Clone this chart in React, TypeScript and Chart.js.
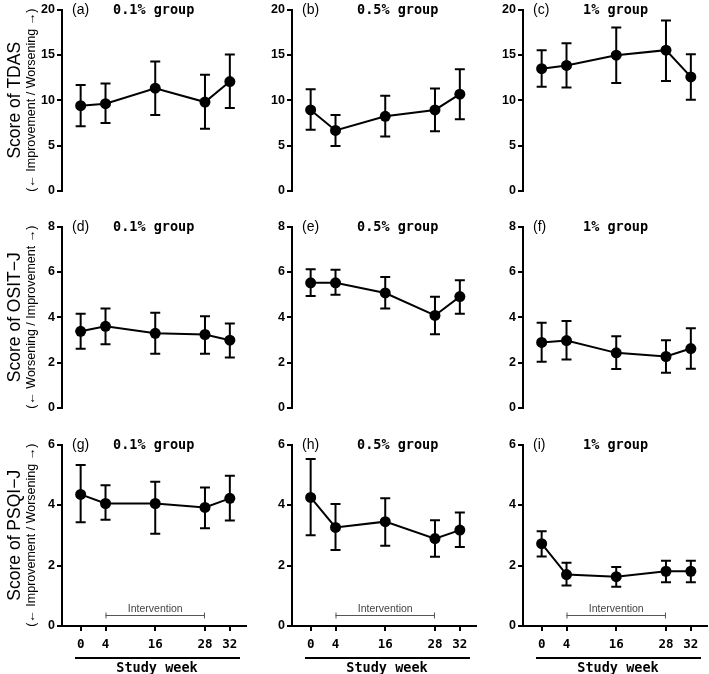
import React, { useEffect, useRef } from "react";
import { Chart, registerables } from "chart.js";
Chart.register(...registerables);

// ---------- data ----------
const weekLabels = ["0", "4", "16", "28", "32"];
const weekPositions = [0, 1, 3, 5, 6];
const interventionFrom = 1; // position of week 4
const interventionTo = 5; // position of week 28

const groupNames = ["0.1% group", "0.5% group", "1% group"];
const panelLetters = ["(a)", "(b)", "(c)", "(d)", "(e)", "(f)", "(g)", "(h)", "(i)"];
const yTitles = ["Score of TDAS", "Score of OSIT\u2212J", "Score of PSQI\u2212J"];
const ySubTitles = [
  "(\u2190 Improvement / Worsening \u2192)",
  "(\u2190 Worsening / Improvement \u2192)",
  "(\u2190 Improvement / Worsening \u2192)",
];
const yMax = [20, 8, 6];
const yStep = [5, 2, 2];

// TDAS
const tdas01Mean = [9.4, 9.62, 11.33, 9.8, 12.06];
const tdas01Upper = [11.69, 11.84, 14.28, 12.82, 15.05];
const tdas01Lower = [7.14, 7.5, 8.38, 6.85, 9.14];
const tdas05Mean = [8.93, 6.67, 8.23, 8.93, 10.67];
const tdas05Upper = [11.22, 8.38, 10.49, 11.29, 13.41];
const tdas05Lower = [6.74, 4.95, 6.01, 6.59, 7.9];
const tdas1Mean = [13.48, 13.84, 14.97, 15.52, 12.57];
const tdas1Upper = [15.52, 16.28, 18.03, 18.8, 15.08];
const tdas1Lower = [11.48, 11.4, 11.91, 12.13, 10.05];
// OSIT-J
const osit01Mean = [3.38, 3.6, 3.29, 3.24, 2.99];
const osit01Upper = [4.15, 4.39, 4.2, 4.04, 3.73];
const osit01Lower = [2.61, 2.81, 2.39, 2.39, 2.23];
const osit05Mean = [5.52, 5.52, 5.07, 4.08, 4.91];
const osit05Upper = [6.12, 6.09, 5.77, 4.9, 5.63];
const osit05Lower = [4.94, 4.99, 4.39, 3.25, 4.15];
const osit1Mean = [2.89, 2.97, 2.43, 2.27, 2.62];
const osit1Upper = [3.76, 3.83, 3.16, 2.99, 3.51];
const osit1Lower = [2.04, 2.14, 1.72, 1.55, 1.73];
// PSQI-J
const psqi01Mean = [4.35, 4.05, 4.05, 3.92, 4.22];
const psqi01Upper = [5.32, 4.65, 4.77, 4.58, 4.97];
const psqi01Lower = [3.43, 3.51, 3.05, 3.23, 3.49];
const psqi05Mean = [4.25, 3.26, 3.45, 2.89, 3.17];
const psqi05Upper = [5.52, 4.03, 4.22, 3.5, 3.75];
const psqi05Lower = [3.0, 2.51, 2.65, 2.29, 2.61];
const psqi1Mean = [2.72, 1.7, 1.63, 1.81, 1.81];
const psqi1Upper = [3.13, 2.09, 1.95, 2.16, 2.16];
const psqi1Lower = [2.3, 1.34, 1.3, 1.45, 1.45];

const panelSeries = [
  [tdas01Mean, tdas01Upper, tdas01Lower],
  [tdas05Mean, tdas05Upper, tdas05Lower],
  [tdas1Mean, tdas1Upper, tdas1Lower],
  [osit01Mean, osit01Upper, osit01Lower],
  [osit05Mean, osit05Upper, osit05Lower],
  [osit1Mean, osit1Upper, osit1Lower],
  [psqi01Mean, psqi01Upper, psqi01Lower],
  [psqi05Mean, psqi05Upper, psqi05Lower],
  [psqi1Mean, psqi1Upper, psqi1Lower],
];

// ---------- layout ----------
const AXIS_X = [62, 292, 523];
const PLOT_TOP = [8, 225, 443];
const PLOT_H = 183;
const PLOT_W = 184;
const Y_AXIS_W = 40;
const X_AXIS_H = 50;
const PAD_TOP = 8;
const PAD_RIGHT = 8;
const GROUP_DX = [51, 65, 60];
const GROUP_FONT = 'bold 13.5px "DejaVu Sans Mono", monospace';
const MONO_FONT = '"DejaVu Sans Mono", monospace';

function Panel({ row, col }: { row: number; col: number }) {
  const ref = useRef<HTMLCanvasElement>(null);
  const padLeft = col === 0 ? AXIS_X[0] - Y_AXIS_W : 0;
  const width = padLeft + Y_AXIS_W + PLOT_W + PAD_RIGHT;
  const height = PAD_TOP + PLOT_H + X_AXIS_H;
  const left = AXIS_X[col] - Y_AXIS_W - padLeft;
  const top = PLOT_TOP[row] - PAD_TOP;
  const idx = row * 3 + col;
  const isBottom = row === 2;

  useEffect(() => {
    const [mean, upper, lower] = panelSeries[idx];
    const plugin = {
      id: "panelDecor",
      beforeDatasetsDraw(chart: any) {
        const ctx = chart.ctx;
        const xs = chart.scales.x;
        const ys = chart.scales.y;
        ctx.save();
        ctx.strokeStyle = "#000";
        ctx.lineWidth = 2;
        weekPositions.forEach((p, i) => {
          const x = xs.getPixelForValue(p);
          const yh = ys.getPixelForValue(upper[i]);
          const yl = ys.getPixelForValue(lower[i]);
          ctx.beginPath();
          ctx.moveTo(x, yh);
          ctx.lineTo(x, yl);
          ctx.moveTo(x - 5, yh);
          ctx.lineTo(x + 5, yh);
          ctx.moveTo(x - 5, yl);
          ctx.lineTo(x + 5, yl);
          ctx.stroke();
        });
        ctx.restore();
      },
      afterDraw(chart: any) {
        const ctx = chart.ctx;
        const a = chart.chartArea;
        const xs = chart.scales.x;
        ctx.save();
        ctx.fillStyle = "#000";
        ctx.textBaseline = "middle";
        ctx.textAlign = "left";
        ctx.font = '14px "Liberation Sans", Arial, sans-serif';
        ctx.fillText(panelLetters[idx], a.left + 10, a.top + 1);
        ctx.font = GROUP_FONT;
        ctx.fillText(groupNames[col], a.left + GROUP_DX[col], a.top + 1);

        if (col === 0) {
          const yc = (a.top + a.bottom) / 2;
          ctx.save();
          ctx.translate(19.5, yc);
          ctx.rotate(-Math.PI / 2);
          ctx.textAlign = "center";
          ctx.textBaseline = "alphabetic";
          ctx.font = '17.5px "Liberation Sans", Arial, sans-serif';
          ctx.fillText(yTitles[row], 0, 0);
          ctx.restore();
          ctx.save();
          ctx.translate(35, yc);
          ctx.rotate(-Math.PI / 2);
          ctx.textAlign = "center";
          ctx.textBaseline = "alphabetic";
          ctx.font = '12.5px "Liberation Sans", Arial, sans-serif';
          ctx.fillText(ySubTitles[row], 0, 0);
          ctx.restore();
        }

        if (isBottom) {
          const x1 = xs.getPixelForValue(interventionFrom);
          const x2 = xs.getPixelForValue(interventionTo);
          const yb = a.bottom - 10.5;
          ctx.strokeStyle = "#555";
          ctx.lineWidth = 1;
          ctx.beginPath();
          ctx.moveTo(x1, yb);
          ctx.lineTo(x2, yb);
          ctx.moveTo(x1 + 0.5, yb - 3);
          ctx.lineTo(x1 + 0.5, yb + 3);
          ctx.moveTo(x2 - 0.5, yb - 3);
          ctx.lineTo(x2 - 0.5, yb + 3);
          ctx.stroke();
          ctx.fillStyle = "#444";
          ctx.textAlign = "center";
          ctx.font = '10.5px "Liberation Sans", Arial, sans-serif';
          ctx.fillText("Intervention", (x1 + x2) / 2, a.bottom - 17);

          // Study week
          ctx.strokeStyle = "#000";
          ctx.lineWidth = 2;
          ctx.beginPath();
          ctx.moveTo(a.left + 13, a.bottom + 32);
          ctx.lineTo(a.left + 178, a.bottom + 32);
          ctx.stroke();
          ctx.fillStyle = "#000";
          ctx.font = "bold 13.5px " + MONO_FONT;
          ctx.fillText("Study week", a.left + 95, a.bottom + 42.5);
        }
        ctx.restore();
      },
    };

    const chart = new Chart(ref.current as HTMLCanvasElement, {
      type: "line",
      data: {
        datasets: [
          {
            data: weekPositions.map((p, i) => ({ x: p, y: mean[i] })),
            borderColor: "#000",
            borderWidth: 2,
            pointRadius: 5.5,
            pointBorderWidth: 0,
            pointBackgroundColor: "#000",
            fill: false,
            tension: 0,
            clip: false as any,
          },
        ],
      },
      options: {
        responsive: false,
        animation: false,
        layout: { padding: { left: padLeft, top: PAD_TOP, right: PAD_RIGHT, bottom: 0 } },
        plugins: { legend: { display: false }, tooltip: { enabled: false }, title: { display: false } },
        events: [],
        scales: {
          x: {
            type: "linear",
            min: -0.75,
            max: 6.65,
            afterFit: (s: any) => {
              s.height = X_AXIS_H;
            },
            afterBuildTicks: (s: any) => {
              s.ticks = weekPositions.map((v) => ({ value: v }));
            },
            border: { display: isBottom, color: "#000", width: 2 },
            grid: {
              display: isBottom,
              drawOnChartArea: false,
              drawTicks: true,
              tickLength: 5,
              color: "#000",
              lineWidth: 2,
            },
            ticks: {
              display: isBottom,
              autoSkip: false,
              maxRotation: 0,
              padding: 6,
              color: "#000",
              font: { family: '"DejaVu Sans Mono", monospace', size: 12.5, weight: "bold" },
              callback: (v: any) => weekLabels[weekPositions.indexOf(Number(v))] ?? "",
            },
          },
          y: {
            type: "linear",
            min: 0,
            max: yMax[row],
            afterFit: (s: any) => {
              s.width = Y_AXIS_W;
            },
            border: { display: true, color: "#000", width: 2 },
            grid: {
              drawOnChartArea: false,
              drawTicks: true,
              tickLength: 5,
              color: "#000",
              lineWidth: 2,
            },
            ticks: {
              stepSize: yStep[row],
              padding: 2,
              color: "#000",
              font: { family: '"Liberation Sans", Arial, sans-serif', size: 12.5, weight: "bold" },
            },
          },
        },
      } as any,
      plugins: [plugin],
    });
    return () => chart.destroy();
  }, []);

  return (
    <canvas
      ref={ref}
      width={width}
      height={height}
      style={{ position: "absolute", left, top, width, height }}
    />
  );
}

export default function App() {
  const panels = [];
  for (let r = 0; r < 3; r++) for (let c = 0; c < 3; c++) panels.push(<Panel key={r * 3 + c} row={r} col={c} />);
  return (
    <div
      style={{
        position: "absolute",
        left: 0,
        top: 0,
        width: 709,
        height: 674,
        overflow: "hidden",
        background: "#fff",
      }}
    >
      {panels}
    </div>
  );
}
